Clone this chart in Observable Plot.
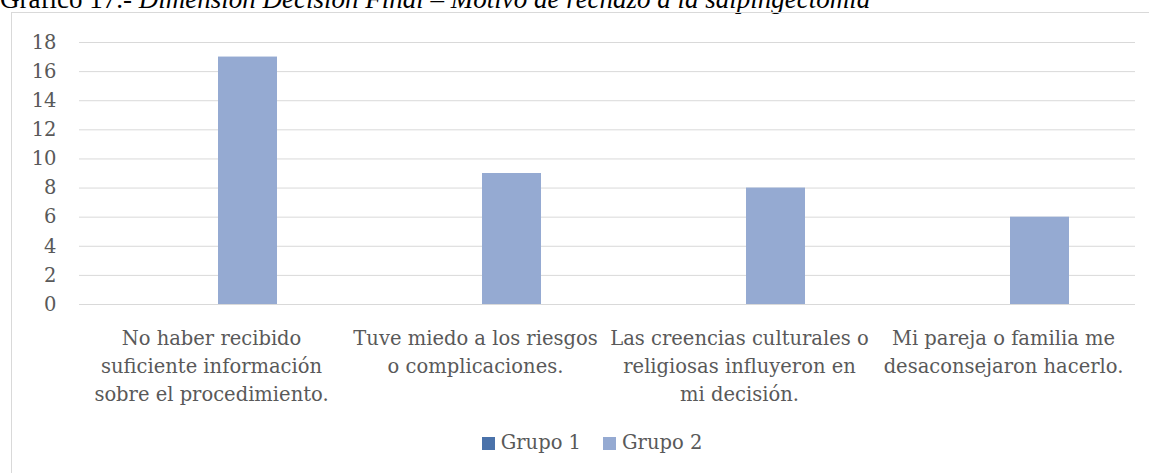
<!DOCTYPE html>
<html>
<head>
<meta charset="utf-8">
<script src="https://cdn.jsdelivr.net/npm/d3@7"></script>
<script src="https://cdn.jsdelivr.net/npm/@observablehq/plot@0.6"></script>
<style>
  html, body { margin: 0; padding: 0; background: #fff; overflow: hidden; width: 1149px; height: 473px; }
  #title { position: absolute; left: 0; top: -14px; font-family: "Liberation Serif", serif; font-size: 27px; line-height: 27px; white-space: nowrap; color: #000; }
  #box { position: absolute; left: 11px; top: 12px; width: 1400px; height: 800px; border-left: 1px solid #d9d9d9; border-top: 1px solid #d9d9d9; pointer-events: none; z-index: 2; }
  #chart { position: absolute; left: 0; top: 0; }
  #legend { position: absolute; left: 0; width: 1184px; top: 431px; display: flex; justify-content: center; gap: 22px; font-family: "DejaVu Serif", serif; font-size: 19.5px; line-height: 24px; color: #595959; }
  .item { display: flex; align-items: center; }
  .sw { width: 13px; height: 13px; margin-right: 6px; display: inline-block; }
</style>
</head>
<body>
<div id="title">Gráfico 17.- <i>Dimensión Decisión Final – Motivo de rechazo a la salpingectomía</i></div>
<div id="chart"></div>
<div id="box"></div>
<div id="legend"></div>
<script>
const categories = [
  "No haber recibido suficiente información sobre el procedimiento.",
  "Tuve miedo a los riesgos o complicaciones.",
  "Las creencias culturales o religiosas influyeron en mi decisión.",
  "Mi pareja o familia me desaconsejaron hacerlo."
];
const tickLabels = [
  "No haber recibido\nsuficiente información\nsobre el procedimiento.",
  "Tuve miedo a los riesgos\no complicaciones.",
  "Las creencias culturales o\nreligiosas influyeron en\nmi decisión.",
  "Mi pareja o familia me\ndesaconsejaron hacerlo."
];
const series = ["Grupo 1", "Grupo 2"];
const grupo1 = [0, 0, 0, 0];
const grupo2 = [17, 9, 8, 6];
const yTicks = [0, 2, 4, 6, 8, 10, 12, 14, 16, 18];
const colors = ["#4A72AA", "#95AAD2"];

const values = [grupo1, grupo2];
const data = [];
categories.forEach((c, i) => {
  series.forEach((s, j) => data.push({category: c, series: s, value: values[j][i]}));
});

const chart = Plot.plot({
  width: 1149,
  height: 420,
  marginTop: 42,
  marginBottom: 116,
  marginLeft: 78,
  marginRight: 13,
  style: {fontFamily: "DejaVu Serif", fontSize: "19.5px", color: "#595959", background: "transparent"},
  fx: {domain: categories, padding: 0, label: null},
  x: {domain: series, paddingInner: 0.19, paddingOuter: 0.895, axis: null},
  y: {domain: [0, 18], label: null},
  color: {domain: series, range: colors},
  marks: [
    Plot.gridY(yTicks, {stroke: "#d9d9d9", strokeOpacity: 1, strokeWidth: 1}),
    Plot.barY(data, {fx: "category", x: "series", y: "value", fill: "series"}),
    Plot.axisY(yTicks, {tickSize: 0, tickPadding: 23, label: null, fontSize: 19.5, fill: "#595959"}),
    Plot.axisFx({anchor: "bottom", tickSize: 0, tickPadding: 21, label: null, fontSize: 19.5, fill: "#595959",
      lineHeight: 1.436,
      tickFormat: d => tickLabels[categories.indexOf(d)]})
  ]
});
document.getElementById("chart").appendChild(chart);

const legend = document.getElementById("legend");
series.forEach((s, i) => {
  const item = document.createElement("div");
  item.className = "item";
  const sw = document.createElement("span");
  sw.className = "sw";
  sw.style.background = colors[i];
  const t = document.createElement("span");
  t.textContent = s;
  item.appendChild(sw);
  item.appendChild(t);
  legend.appendChild(item);
});
</script>
</body>
</html>
